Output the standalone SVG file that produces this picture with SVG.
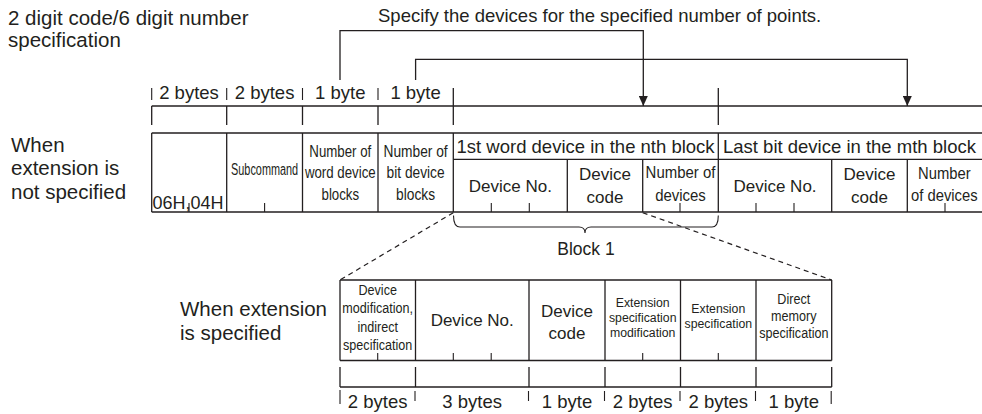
<svg xmlns="http://www.w3.org/2000/svg" width="982" height="414" viewBox="0 0 982 414">
<style>
text{font-family:"Liberation Sans",Arial,sans-serif;fill:#231f20}
.t21{font-size:20.5px}
.t18{font-size:18.5px}
.t17{font-size:17px}
.c{text-anchor:middle}
.n16{font-size:16px;text-anchor:middle}
.n15{font-size:15px;text-anchor:middle}
.n13{font-size:13.5px;text-anchor:middle}
.ln{stroke:#231f20;stroke-width:1.3;fill:none}
.tk{stroke:#231f20;stroke-width:1.1;fill:none}
.ds{stroke:#231f20;stroke-width:1.2;fill:none;stroke-dasharray:5 4}
</style>
<defs>
<marker id="ah" markerUnits="userSpaceOnUse" markerWidth="10" markerHeight="9" refX="10" refY="4.5" orient="auto">
<path d="M0,0 L10,4.5 L0,9 z" fill="#231f20"/>
</marker>
</defs>

<g id="labels">
<text class="t21" x="8" y="25">2 digit code/6 digit number</text>
<text class="t21" x="8" y="47">specification</text>
<text class="t18" x="378" y="21.5">Specify the devices for the specified number of points.</text>
<text class="t21" x="11" y="151.5">When</text>
<text class="t21" x="11" y="175">extension is</text>
<text class="t21" x="11" y="198.5">not specified</text>
<text class="t21" x="180" y="316">When extension</text>
<text class="t21" x="180" y="340">is specified</text>
</g>

<g id="header-bytes">
<path class="ln" d="M151.7,106 H982"/>
<path class="tk" d="M151.7,88 V100 M226.7,88 V100 M302.5,88 V100 M378,88 V100"/>
<path class="ln" d="M151.7,106 V125 M226.7,106 V125 M302.5,106 V125 M378,106 V125 M453.3,88 V125 M718.3,88 V125"/>
<text class="t18 c" x="189" y="99">2 bytes</text>
<text class="t18 c" x="264.6" y="99">2 bytes</text>
<text class="t18 c" x="340.3" y="99">1 byte</text>
<text class="t18 c" x="415.6" y="99">1 byte</text>
</g>

<g id="frame-not-extended">
<path class="ln" d="M151.7,133 H982 M151.7,212 H982 M453.3,159.3 H982"/>
<path class="ln" d="M151.7,133 V212 M226.7,133 V212 M302.5,133 V212 M378,133 V212 M453.3,133 V212 M718.3,133 V212"/>
<path class="ln" d="M567.3,159.3 V212 M642.7,159.3 V212 M831.7,159.3 V212 M907.3,159.3 V212"/>
<path class="tk" d="M189,203 V212 M264.6,203 V212 M491.3,203 V212 M529.3,203 V212 M680,203 V212 M756,203 V212 M794,203 V212 M945,203 V212"/>
<g id="cell-command">
<text style="font-size:18px" x="152.5" y="209">06H,04H</text>
</g>
<g id="cell-subcommand">
<text class="n16" transform="translate(264.6 175) scale(0.68 1)" x="0" y="0">Subcommand</text>
</g>
<g id="cell-word-blocks">
<text class="n16" transform="translate(340.3 157) scale(0.83 1)"><tspan x="0" y="0">Number of</tspan><tspan x="0" y="21.5">word device</tspan><tspan x="0" y="43">blocks</tspan></text>
</g>
<g id="cell-bit-blocks">
<text class="n16" transform="translate(415.6 157) scale(0.86 1)"><tspan x="0" y="0">Number of</tspan><tspan x="0" y="21.5">bit device</tspan><tspan x="0" y="43">blocks</tspan></text>
</g>
<g id="block-first-word">
<text class="t18" x="456.5" y="153.3">1st word device in the nth block</text>
<text class="t17 c" x="510.3" y="191.5">Device No.</text>
<text class="t17 c" x="605" y="180">Device</text>
<text class="t17 c" x="605" y="202.5">code</text>
<text class="t17 c" transform="translate(680.5 178) scale(0.88 1)"><tspan x="0" y="0">Number of</tspan><tspan x="0" y="23">devices</tspan></text>
</g>
<g id="block-last-bit">
<text class="t18" x="723" y="153.3">Last bit device in the mth block</text>
<text class="t17 c" x="775" y="191.5">Device No.</text>
<text class="t17 c" x="869.5" y="180">Device</text>
<text class="t17 c" x="869.5" y="202.5">code</text>
<text class="t17 c" transform="translate(944.3 179) scale(0.87 1)"><tspan x="0" y="0">Number</tspan><tspan x="0" y="22.5">of devices</tspan></text>
</g>
</g>

<g id="block1">
<path class="tk" d="M453.5,215.5 Q453.5,227 460,227 L579,227 Q585,227 585,233 Q585,227 591,227 L712,227 Q718.3,227 718.3,215.5"/>
<text class="c" style="font-size:17.5px" x="586" y="255">Block 1</text>
</g>

<g id="frame-extended">
<path class="ln" d="M340,280 H831.7 M340,360.5 H831.7"/>
<path class="ln" d="M340,280 V360.5 M415.5,280 V360.5 M529,280 V360.5 M605,280 V360.5 M680.5,280 V360.5 M756,280 V360.5 M831.7,280 V360.5"/>
<path class="tk" d="M377.7,353 V360.5 M453.3,353 V360.5 M491.2,353 V360.5 M642.7,353 V360.5 M718.3,353 V360.5"/>
<g id="cell-modification">
<text class="n15" transform="translate(377.7 295) scale(0.84 1)"><tspan x="0" y="0">Device</tspan><tspan x="0" y="18.3">modification,</tspan><tspan x="0" y="36.6">indirect</tspan><tspan x="0" y="55">specification</tspan></text>
</g>
<g id="cell-device-no">
<text class="t17 c" x="472.2" y="326">Device No.</text>
</g>
<g id="cell-device-code">
<text class="t17 c" x="567" y="317">Device</text>
<text class="t17 c" x="567" y="338.5">code</text>
</g>
<g id="cell-ext-mod">
<text class="n13" transform="translate(642.7 307) scale(0.91 1)"><tspan x="0" y="0">Extension</tspan><tspan x="0" y="15.2">specification</tspan><tspan x="0" y="30.4">modification</tspan></text>
</g>
<g id="cell-ext-spec">
<text class="n13" transform="translate(718.3 313) scale(0.91 1)"><tspan x="0" y="0">Extension</tspan><tspan x="0" y="15.2">specification</tspan></text>
</g>
<g id="cell-direct-mem">
<text class="n15" transform="translate(793.8 304) scale(0.84 1)"><tspan x="0" y="0">Direct</tspan><tspan x="0" y="17">memory</tspan><tspan x="0" y="34.5">specification</tspan></text>
</g>
</g>

<g id="footer-bytes">
<path class="ln" d="M340,387 H831.7"/>
<path class="ln" d="M340,367 V387 M415.5,367 V387 M529,367 V387 M605,367 V387 M680.5,367 V387 M756,367 V387 M831.7,367 V387"/>
<path class="tk" d="M340,390 V404 M415,391 V401 M528.5,391 V401 M604.5,391 V401 M680,391 V401 M755.5,391 V401 M831.2,391 V404"/>
<text class="t18 c" x="377.7" y="408">2 bytes</text>
<text class="t18 c" x="472.2" y="408">3 bytes</text>
<text class="t18 c" x="567" y="408">1 byte</text>
<text class="t18 c" x="642.7" y="408">2 bytes</text>
<text class="t18 c" x="718.3" y="408">2 bytes</text>
<text class="t18 c" x="793.8" y="408">1 byte</text>
</g>

<g id="connectors">
<path class="ln" d="M340,80 V30.7 H643.3 V106" marker-end="url(#ah)"/>
<path class="ln" d="M415.6,80 V59.3 H907.3 V106" marker-end="url(#ah)"/>
<path class="ds" d="M453.3,212.7 L340,280"/>
<path class="ds" d="M642.7,212.7 L831.7,280"/>
</g>
</svg>
